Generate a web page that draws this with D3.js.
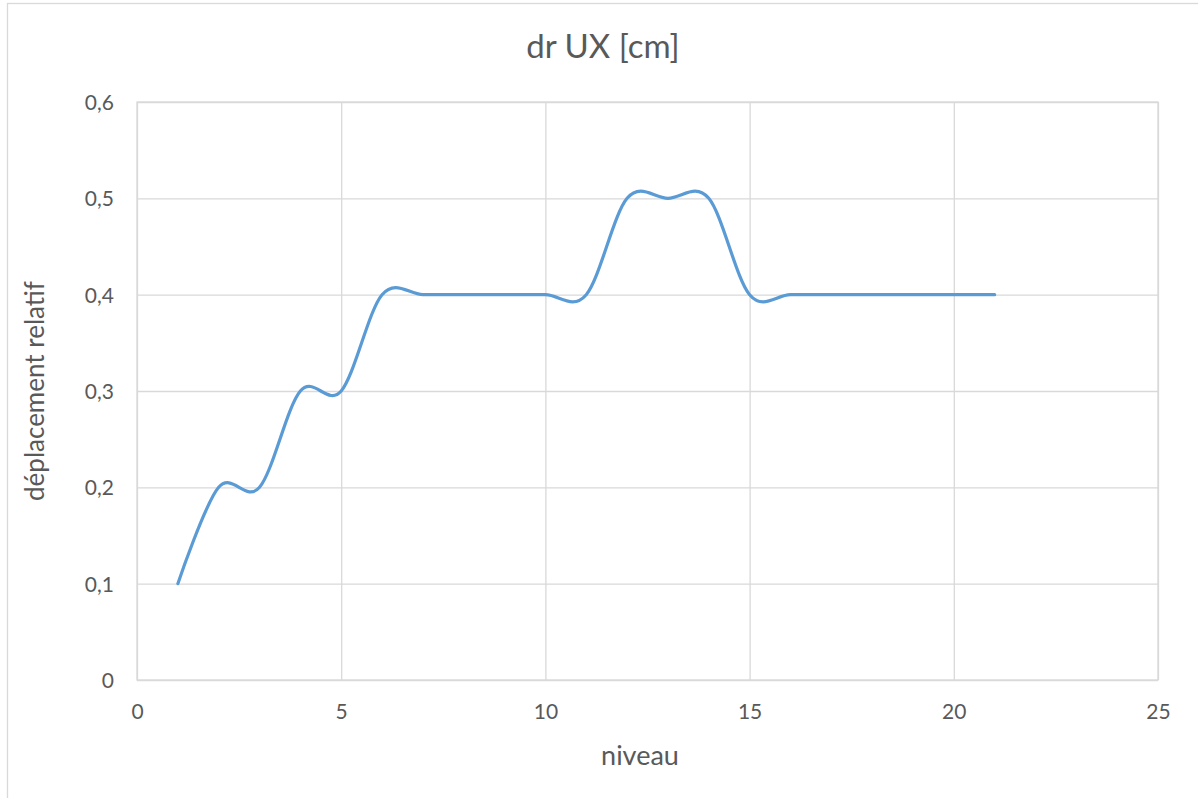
<!DOCTYPE html>
<html>
<head>
<meta charset="utf-8">
<script src="https://cdn.jsdelivr.net/npm/d3@7/dist/d3.min.js"></script>
<style>
  html, body { margin: 0; padding: 0; background: #fff; }
  svg { display: block; }
  text { font-family: Lato, "Open Sans", sans-serif; fill: #595959; }
</style>
</head>
<body>
<svg id="chart" width="1198" height="798"></svg>
<script>
const niveau = [1, 2, 3, 4, 5, 6, 7, 8, 9, 10, 11, 12, 13, 14, 15, 16, 17, 18, 19, 20, 21];
const deplacement = [0.1, 0.2, 0.2, 0.3, 0.3, 0.4, 0.4, 0.4, 0.4, 0.4, 0.4, 0.5, 0.5, 0.5, 0.4, 0.4, 0.4, 0.4, 0.4, 0.4, 0.4];
const xTicks = [0, 5, 10, 15, 20, 25];
const yTicks = [0, 0.1, 0.2, 0.3, 0.4, 0.5, 0.6];
const title = "dr UX [cm]";
const xTitle = "niveau";
const yTitle = "déplacement relatif";

const svg = d3.select("#chart");
const W = 1198, H = 798;
const m = { left: 137, right: 1158, top: 102, bottom: 680 };

// outer chart border
svg.append("rect")
  .attr("x", 7.5).attr("y", 3.5)
  .attr("width", W + 10).attr("height", H + 10)
  .attr("fill", "#fff").attr("stroke", "#d9d9d9").attr("stroke-width", 1.3);

const x = d3.scaleLinear().domain([0, 25]).range([m.left, m.right]);
const y = d3.scaleLinear().domain([0, 0.6]).range([m.bottom, m.top]);

const fmt = v => d3.format(".1f")(v).replace(".", ",");

// gridlines + tick labels
const gx = svg.append("g").attr("transform", `translate(0,${m.bottom})`)
  .call(d3.axisBottom(x).tickValues(xTicks).tickSize(-(m.bottom - m.top)).tickFormat(d => d).tickPadding(24));
const gy = svg.append("g").attr("transform", `translate(${m.left},0)`)
  .call(d3.axisLeft(y).tickValues(yTicks).tickSize(-(m.right - m.left)).tickFormat(d => d === 0 ? "0" : fmt(d)).tickPadding(23));

[gx, gy].forEach(g => {
  g.select(".domain").remove();
  g.selectAll(".tick line").attr("stroke", "#d9d9d9").attr("stroke-width", 1.3);
  g.selectAll(".tick text").style("font-size", "21px").attr("fill", "#595959");
});
gy.selectAll(".tick text").attr("dy", "0.35em");

// plot area frame
svg.append("rect")
  .attr("x", m.left).attr("y", m.top)
  .attr("width", m.right - m.left).attr("height", m.bottom - m.top)
  .attr("fill", "none").attr("stroke", "#d9d9d9").attr("stroke-width", 1.3);

// series
const line = d3.line()
  .x((d, i) => x(niveau[i]))
  .y(d => y(d))
  .curve(d3.curveCatmullRom.alpha(0));
svg.append("path")
  .datum(deplacement)
  .attr("d", line)
  .attr("fill", "none")
  .attr("stroke", "#5B9BD5")
  .attr("stroke-width", 3.2)
  .attr("stroke-linecap", "round")
  .attr("stroke-linejoin", "round");

// titles
svg.append("text")
  .attr("x", 603).attr("y", 58)
  .attr("text-anchor", "middle")
  .style("font-size", "33px")
  .text(title);

svg.append("text")
  .attr("x", 640).attr("y", 765)
  .attr("text-anchor", "middle")
  .style("font-size", "27px")
  .text(xTitle);

svg.append("text")
  .attr("transform", `translate(44,391) rotate(-90)`)
  .attr("text-anchor", "middle")
  .style("font-size", "26px")
  .text(yTitle);
</script>
</body>
</html>
